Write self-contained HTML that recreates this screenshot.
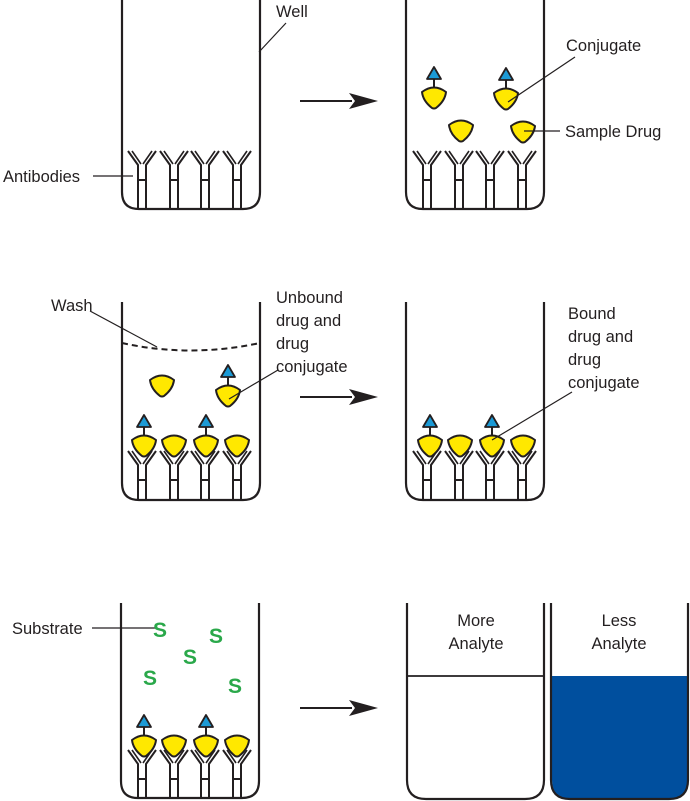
<!DOCTYPE html>
<html><head><meta charset="utf-8"><style>
html,body{margin:0;padding:0;background:#fff}
svg{display:block}
text{font-family:"Liberation Sans",sans-serif;font-size:16.5px;fill:#231f20}
</style></head><body>
<svg width="690" height="801" viewBox="0 0 690 801" xmlns="http://www.w3.org/2000/svg">
<defs>
<g id="ab" fill="none" stroke="#231f20" stroke-width="2">
<path d="M-14,0 L-4,14 L-4,57 M14,0 L4,14 L4,57 M-4,29 L4,29"/>
<path d="M-10,0 L-1,13 M10,0 L1,13" stroke-width="1.6"/>
</g>
<g id="ab2" fill="none" stroke="#231f20" stroke-width="2">
<path d="M-14,0 L-4,14 L-4,48 M14,0 L4,14 L4,48 M-4,29 L4,29"/>
<path d="M-10,0 L-1,13 M10,0 L1,13" stroke-width="1.6"/>
</g>
<path id="dr" d="M-12,-5 Q0,-14 12,-5 Q11,4 2,11 Q0,12 -2,11 Q-11,4 -12,-5 Z" fill="#ffe800" stroke="#231f20" stroke-width="2" stroke-linejoin="round"/>
<g id="cj">
<line x1="0" y1="-10" x2="0" y2="-18" stroke="#231f20" stroke-width="2"/>
<path d="M0,-30 L7,-18 L-7,-18 Z" fill="#1b9ad6" stroke="#231f20" stroke-width="1.8" stroke-linejoin="round"/>
<use href="#dr"/>
</g>
<g id="arr"><line x1="300" y1="0" x2="352" y2="0" stroke="#231f20" stroke-width="2"/><path d="M349,-8 L378,0 L349,8 L355,0 Z" fill="#231f20"/></g>
</defs>
<g fill="none" stroke="#231f20" stroke-width="2.2">
<path d="M122,0 V192 Q122,209 139,209 H243 Q260,209 260,192 V0"/>
<path d="M406,0 V192 Q406,209 423,209 H527 Q544,209 544,192 V0"/>
<path d="M122,302 V483 Q122,500 139,500 H243 Q260,500 260,483 V302"/>
<path d="M406,302 V483 Q406,500 423,500 H527 Q544,500 544,483 V302"/>
<path d="M121,603 V781 Q121,798 138,798 H242 Q259,798 259,781 V603"/>
</g>
<path d="M552,676 V780 Q552,799 571,799 H669 Q688,799 688,780 V676 Z" fill="#004f9e"/>
<g fill="none" stroke="#231f20" stroke-width="2.2">
<path d="M407,603 V780 Q407,799 426,799 H525 Q544,799 544,780 V603"/>
<path d="M551,603 V780 Q551,799 570,799 H669 Q688,799 688,780 V603"/>
<line x1="407" y1="676" x2="544" y2="676" stroke-width="1.8"/>
</g>
<use href="#ab" x="142" y="151"/><use href="#ab" x="174" y="151"/><use href="#ab" x="205" y="151"/><use href="#ab" x="237" y="151"/>
<use href="#ab" x="427" y="151"/><use href="#ab" x="459" y="151"/><use href="#ab" x="490" y="151"/><use href="#ab" x="522" y="151"/>
<use href="#cj" x="434" y="97"/><use href="#cj" x="506" y="98"/>
<use href="#dr" x="461" y="130"/><use href="#dr" x="523" y="131"/>
<use href="#ab2" x="142" y="451"/><use href="#ab2" x="174" y="451"/><use href="#ab2" x="205" y="451"/><use href="#ab2" x="237" y="451"/>
<use href="#cj" x="144" y="445"/><use href="#dr" x="174" y="445"/><use href="#cj" x="206" y="445"/><use href="#dr" x="237" y="445"/>
<use href="#dr" x="162" y="385"/><use href="#cj" x="228" y="395"/>
<use href="#ab2" x="427" y="451"/><use href="#ab2" x="459" y="451"/><use href="#ab2" x="490" y="451"/><use href="#ab2" x="522" y="451"/>
<use href="#cj" x="430" y="445"/><use href="#dr" x="460" y="445"/><use href="#cj" x="492" y="445"/><use href="#dr" x="523" y="445"/>
<use href="#ab2" x="142" y="750"/><use href="#ab2" x="174" y="750"/><use href="#ab2" x="205" y="750"/><use href="#ab2" x="237" y="750"/>
<use href="#cj" x="144" y="745"/><use href="#dr" x="174" y="745"/><use href="#cj" x="206" y="745"/><use href="#dr" x="237" y="745"/>
<use href="#arr" y="101"/><use href="#arr" y="397"/><use href="#arr" y="708"/>
<path d="M122,343 Q190,358 260,343" fill="none" stroke="#231f20" stroke-width="2" stroke-dasharray="6,4"/>
<g stroke="#231f20" stroke-width="1.2" fill="none">
<line x1="259" y1="52" x2="286" y2="23"/>
<line x1="93" y1="176" x2="133" y2="176"/>
<line x1="508" y1="102" x2="575" y2="57"/>
<line x1="524" y1="131" x2="560" y2="131"/>
<line x1="90" y1="311" x2="157" y2="347"/>
<line x1="229" y1="399" x2="278" y2="370"/>
<line x1="492" y1="440" x2="572" y2="392"/>
<line x1="92" y1="628" x2="156" y2="628"/>
</g>
<text x="276" y="17">Well</text>
<text x="3" y="182">Antibodies</text>
<text x="566" y="51">Conjugate</text>
<text x="565" y="137">Sample Drug</text>
<text x="51" y="311">Wash</text>
<text x="276" y="303">Unbound</text>
<text x="276" y="326">drug and</text>
<text x="276" y="349">drug</text>
<text x="276" y="372">conjugate</text>
<text x="568" y="319">Bound</text>
<text x="568" y="342">drug and</text>
<text x="568" y="365">drug</text>
<text x="568" y="388">conjugate</text>
<text x="12" y="634">Substrate</text>
<text x="476" y="626" text-anchor="middle">More</text>
<text x="476" y="649" text-anchor="middle">Analyte</text>
<text x="619" y="626" text-anchor="middle">Less</text>
<text x="619" y="649" text-anchor="middle">Analyte</text>
<g text-anchor="middle">
<text x="160" y="637" style="fill:#2aa84a;font-size:21px;font-weight:bold">S</text>
<text x="216" y="643" style="fill:#2aa84a;font-size:21px;font-weight:bold">S</text>
<text x="190" y="664" style="fill:#2aa84a;font-size:21px;font-weight:bold">S</text>
<text x="150" y="685" style="fill:#2aa84a;font-size:21px;font-weight:bold">S</text>
<text x="235" y="693" style="fill:#2aa84a;font-size:21px;font-weight:bold">S</text>
</g>
</svg>
</body></html>
